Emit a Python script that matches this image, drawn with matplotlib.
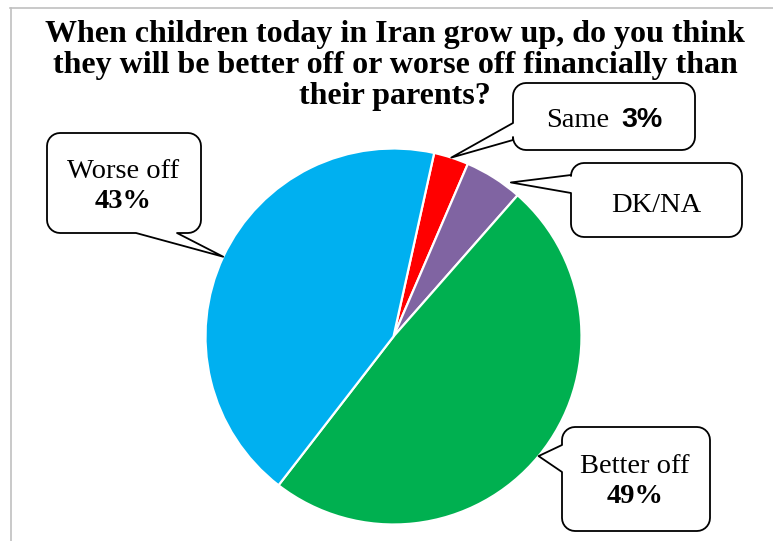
import numpy as np
import matplotlib
matplotlib.use("Agg")
import matplotlib.pyplot as plt
from matplotlib.patches import Polygon
from matplotlib.lines import Line2D

W, H = 773, 541

# survey answers (percent)
categories = ["Same", "DK/NA", "Better off", "Worse off"]
values = [3, 5, 49, 43]
colors = ["#FF0000", "#8064A2", "#00B050", "#00B0F0"]
title_lines = ["When children today in Iran grow up, do you think",
               "they will be better off or worse off financially than",
               "their parents?"]

SERIF = "Liberation Serif"
SANS = "Liberation Sans"

fig = plt.figure(figsize=(W / 100, H / 100), dpi=100)
ax = fig.add_axes([0, 0, 1, 1])

cx, cy, R = 393.5, 336.5, 188


def Y(py):
    # pixel rows run downward, axes y runs upward
    return H - py


wedges, _ = ax.pie(values, colors=colors, startangle=77.5, counterclock=False,
                   center=(cx, Y(cy)), radius=R,
                   wedgeprops=dict(edgecolor="white", linewidth=1.6))
ax.set_xlim(0, W)
ax.set_ylim(0, H)
ax.set_aspect("equal")
ax.axis("off")


def tip_of(wedge, dang=0.0, k=1.0):
    a = np.deg2rad((wedge.theta1 + wedge.theta2) / 2 + dang)
    return cx + R * k * np.cos(a), cy - R * k * np.sin(a)


def arc(xc, yc, r, a0, a1, n=8):
    t = np.deg2rad(np.linspace(a0, a1, n))
    return [(xc + r * np.cos(t_), yc + r * np.sin(t_)) for t_ in t]


def callout(x0, y0, x1, y1, side, a, b, tip, r=13):
    # rounded box with a pointer, walked clockwise in pixel space (y down)
    pts = []
    pts += arc(x0 + r, y0 + r, r, 180, 270)
    pts += arc(x1 - r, y0 + r, r, 270, 360)
    pts += arc(x1 - r, y1 - r, r, 0, 90)
    if side == "bottom":
        pts += [(b, y1), tip, (a, y1)]
    pts += arc(x0 + r, y1 - r, r, 90, 180)
    if side == "left":
        pts += [(x0, b), tip, (x0, a)]
    pts = [(x, Y(y)) for x, y in pts]
    ax.add_patch(Polygon(pts, closed=True, facecolor="white",
                         edgecolor="black", linewidth=1.3, zorder=5,
                         joinstyle="round"))


w_same, w_dk, w_better, w_worse = wedges

callout(47, 133, 201, 233, "bottom", 136, 177, tip_of(w_worse))
callout(513, 83, 695, 150, "left", 123, 140, tip_of(w_same))
callout(571, 163, 742, 237, "left", 175, 193, tip_of(w_dk, -5, 1.03))
callout(562, 427, 710, 531, "left", 445, 472, tip_of(w_better))

tk = dict(fontsize=20.5, zorder=6, va="baseline")
ax.text(123, Y(178), "Worse off", ha="center", family=SERIF, **tk)
ax.text(123, Y(208), f"{values[3]}%", ha="center", family=SERIF,
        fontweight="bold", **tk)
ax.text(609, Y(127), "Same", ha="right", family=SERIF, **tk)
ax.text(621, Y(127), f"{values[0]}%", ha="left", family=SANS,
        fontweight="bold", **tk)
ax.text(656, Y(212), "DK/NA", ha="center", family=SERIF, **tk)
ax.text(635, Y(473), "Better off", ha="center", family=SERIF, **tk)
ax.text(635, Y(503), f"{values[2]}%", ha="center", family=SERIF,
        fontweight="bold", **tk)

for i, line in enumerate(title_lines):
    ax.text(395, Y(42 + 31 * i), line, ha="center", va="baseline",
            family=SERIF, fontweight="bold", fontsize=23, zorder=6)

# chart frame (top and left edges)
ax.add_line(Line2D([10, W], [Y(7.5), Y(7.5)], color="#c0c0c0", lw=1.2))
ax.add_line(Line2D([10.5, 10.5], [Y(7.5), 0], color="#c0c0c0", lw=1.2))

fig.savefig("out.png", dpi=100)
